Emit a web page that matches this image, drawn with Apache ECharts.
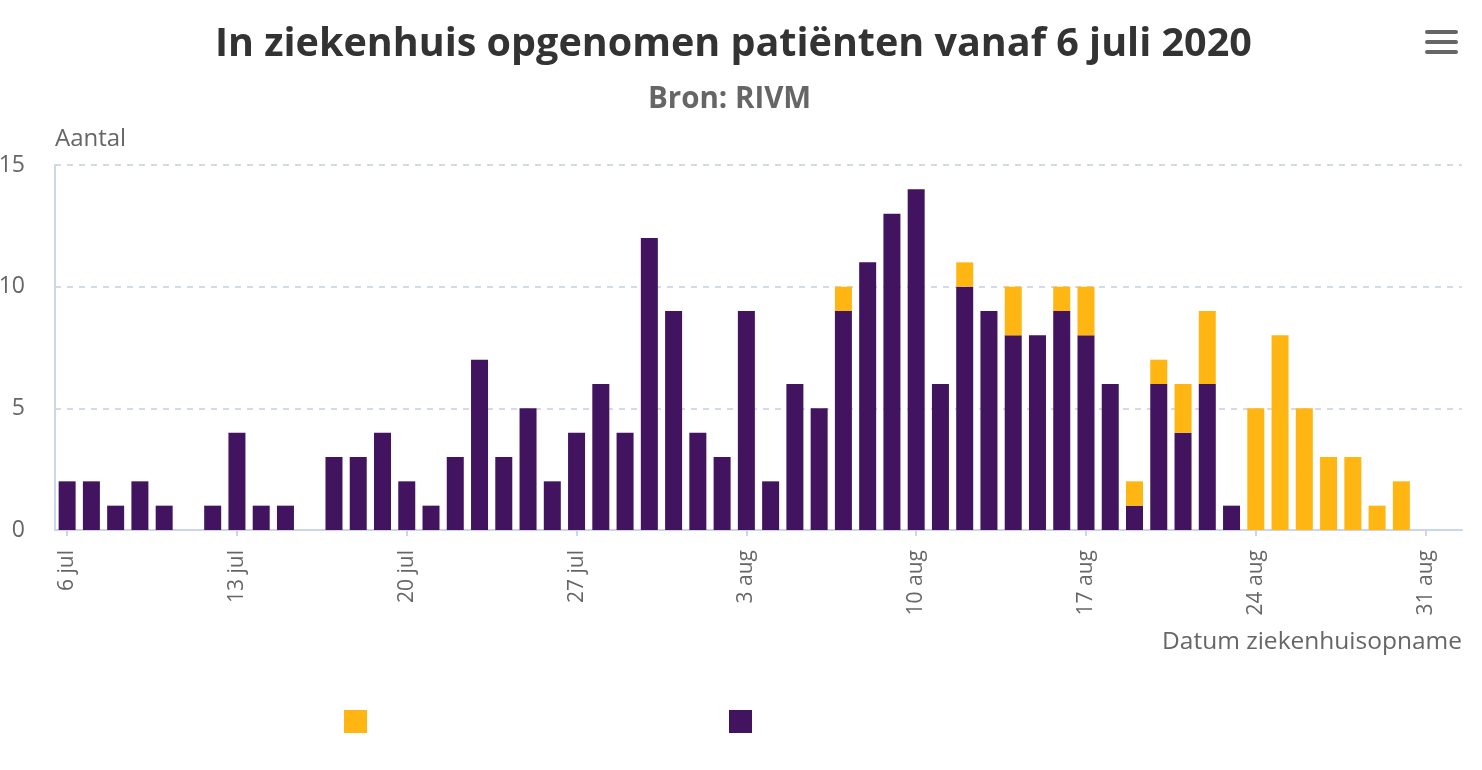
<!DOCTYPE html>
<html>
<head>
<meta charset="utf-8">
<script src="https://cdn.jsdelivr.net/npm/echarts@6/dist/echarts.min.js"></script>
<style>html,body{margin:0;padding:0;background:#fff}#c{width:1482px;height:770px}</style>
</head>
<body>
<div id="c"></div>
<script>
const categories = ['6 jul','7 jul','8 jul','9 jul','10 jul','11 jul','12 jul','13 jul','14 jul','15 jul','16 jul','17 jul','18 jul','19 jul','20 jul','21 jul','22 jul','23 jul','24 jul','25 jul','26 jul','27 jul','28 jul','29 jul','30 jul','31 jul','1 aug','2 aug','3 aug','4 aug','5 aug','6 aug','7 aug','8 aug','9 aug','10 aug','11 aug','12 aug','13 aug','14 aug','15 aug','16 aug','17 aug','18 aug','19 aug','20 aug','21 aug','22 aug','23 aug','24 aug','25 aug','26 aug','27 aug','28 aug','29 aug','30 aug','31 aug','1 sep'];
const gemeld = [2,2,1,2,1,0,1,4,1,1,0,3,3,4,2,1,3,7,3,5,2,4,6,4,12,9,4,3,9,2,6,5,9,11,13,14,6,10,9,8,8,9,8,6,1,6,4,6,1,0,0,0,0,0,0,0,0,0];
const nogNietGemeld = [0,0,0,0,0,0,0,0,0,0,0,0,0,0,0,0,0,0,0,0,0,0,0,0,0,0,0,0,0,0,0,0,1,0,0,0,0,1,0,2,0,1,2,0,1,1,2,3,0,5,8,5,3,3,1,2,0,0];
const tickLabels = ['6 jul','13 jul','20 jul','27 jul','3 aug','10 aug','17 aug','24 aug','31 aug'];

const FONT = '"Open Sans", "Noto Sans", sans-serif';
const chart = echarts.init(document.getElementById('c'));
const showTick = (i) => tickLabels.indexOf(categories[i]) >= 0;
chart.setOption({
  animation: false,
  title: [{
    text: 'In ziekenhuis opgenomen patiënten vanaf 6 juli 2020',
    left: 215, top: 25, padding: 0,
    textStyle: { fontFamily: FONT, fontSize: 39.5, fontWeight: 'bold', color: '#333333' }
  }, {
    text: 'Bron: RIVM',
    left: 648, top: 85, padding: 0,
    textStyle: { fontFamily: FONT, fontSize: 29.5, fontWeight: 'bold', color: '#666666' }
  }],
  legend: {
    left: 344, top: 710, padding: 0, itemWidth: 23, itemHeight: 23, itemGap: 362,
    icon: 'rect', formatter: () => '',
    data: ['Nog niet gemeld', 'Gemeld'],
    textStyle: { fontSize: 1 }
  },
  grid: { left: 55, right: 20, top: 165, bottom: 240, containLabel: false, outerBoundsMode: 'none' },
  xAxis: {
    type: 'category', data: categories,
    axisLine: { lineStyle: { color: '#ccd6eb', width: 2 } },
    axisTick: { show: true, alignWithLabel: true, interval: showTick, length: 6, lineStyle: { color: '#ccd6eb', width: 2 } },
    axisLabel: { interval: showTick, rotate: 90, margin: 20, fontFamily: FONT, fontSize: 21, color: '#666666' }
  },
  yAxis: {
    type: 'value', min: 0, max: 15, interval: 5,
    name: 'Aantal', nameLocation: 'end', nameGap: 26,
    nameTextStyle: { align: 'left', verticalAlign: 'middle', fontFamily: FONT, fontSize: 24, color: '#666666' },
    axisLine: { show: true, lineStyle: { color: '#ccd6eb', width: 2 } },
    axisTick: { show: false },
    axisLabel: { margin: 30, fontFamily: FONT, fontSize: 23, color: '#666666' },
    splitLine: { lineStyle: { color: '#c5d0e3', type: [6, 6], width: 1.5 } }
  },
  graphic: [{
    type: 'text', right: 20, top: 630,
    style: { text: 'Datum ziekenhuisopname', fontFamily: FONT, fontSize: 24.5, fill: '#666666' }
  }, {
    type: 'group', right: 24, top: 30,
    children: [
      { type: 'rect', shape: { x: 0, y: 0, width: 33, height: 4, r: 2 }, style: { fill: '#666666' } },
      { type: 'rect', shape: { x: 0, y: 10, width: 33, height: 4, r: 2 }, style: { fill: '#666666' } },
      { type: 'rect', shape: { x: 0, y: 20, width: 33, height: 4, r: 2 }, style: { fill: '#666666' } }
    ]
  }],
  series: [{
    name: 'Gemeld', type: 'bar', stack: 'a', data: gemeld, barWidth: 17,
    itemStyle: { color: '#42145f' }
  }, {
    name: 'Nog niet gemeld', type: 'bar', stack: 'a', data: nogNietGemeld, barWidth: 17,
    itemStyle: { color: '#ffb612' }
  }]
});
</script>
</body>
</html>
